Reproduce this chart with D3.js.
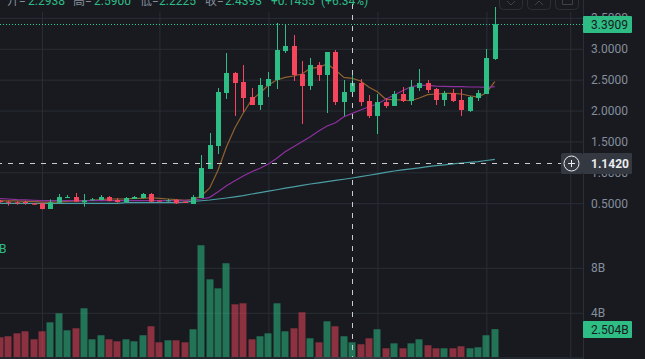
<!DOCTYPE html>
<html>
<head>
<meta charset="utf-8">
<script src="https://cdn.jsdelivr.net/npm/d3@7"></script>
<style>
    html, body { margin: 0; padding: 0; background: #181a20; overflow: hidden; }
    svg { display: block; }
    text { font-family: Roboto, "Noto Sans CJK SC", sans-serif; }
</style>
</head>
<body>
<div id="chart"></div>
<script>
// candles, oldest first
const opens = [.533,.517,.506,.511,.490,.490,.398,.500,.581,.592,.506,.538,.544,.592,.544,.511,.560,.576,.641,.533,.522,.544,.517,.479,
    .576,1.046,1.418,2.276,2.600,2.454,2.211,2.082,2.390,2.487,2.956,3.037,2.584,2.390,2.730,2.568,2.940,2.130,2.2938,2.438,2.147,1.904,
    2.130,2.066,2.260,2.147,2.357,2.438,2.341,2.163,2.276,2.163,1.985,2.195,2.260,2.827];
const closes = [.511,.500,.490,.495,.468,.398,.506,.592,.592,.517,.538,.554,.592,.528,.511,.576,.592,.641,.517,.522,.538,.490,.495,.592,
    1.062,1.434,2.292,2.600,2.438,2.195,2.082,2.406,2.503,2.972,3.037,2.568,2.390,2.730,2.568,2.940,2.130,2.292,2.4393,2.130,1.904,2.130,
    2.066,2.260,2.147,2.373,2.438,2.325,2.163,2.276,2.147,2.001,2.211,2.276,2.843,3.3909];
const highs = [.544,.533,.522,.533,.490,.490,.554,.641,.625,.657,.641,.576,.625,.608,.576,.592,.608,.657,.657,.533,.560,.560,.517,.625,
    1.272,1.629,2.357,2.924,2.616,2.730,2.357,2.519,2.616,3.410,3.377,3.215,2.794,2.843,2.778,2.940,2.972,2.487,2.5900,2.503,2.244,2.260,
    2.195,2.309,2.373,2.487,2.665,2.487,2.357,2.309,2.341,2.341,2.228,2.325,2.989,3.669];
const lows = [.500,.452,.468,.468,.468,.393,.398,.495,.576,.511,.436,.538,.538,.522,.500,.506,.560,.571,.511,.522,.517,.479,.495,.479,
    .576,1.046,1.289,2.179,1.904,1.969,2.082,2.001,2.211,2.341,2.924,2.471,1.774,2.325,2.471,1.952,2.082,1.904,2.2225,2.066,1.871,1.612,
    2.033,2.066,2.130,2.082,2.309,2.276,2.082,2.066,2.130,1.904,1.969,2.147,2.260,2.811];

// volume in billions
const volumes = [1.78,1.87,2.13,2.31,1.6,2.31,3.11,3.91,2.4,2.58,4.36,1.6,1.96,1.6,1.42,1.6,1.42,1.96,2.76,1.33,1.51,1.51,1.33,2.49,
    9.96,6.93,6.13,8.36,4.71,4.8,1.6,1.87,2.13,4.8,2.31,2.58,4.0,1.69,1.33,3.2,2.76,1.87,1.33,1.16,1.69,2.49,
    .8,1.24,.8,1.24,1.6,1.07,.8,.8,.8,.98,.8,.89,1.96,2.504];

// moving averages
const maShort = [.53,.53,.53,.52,.52,.51,.51,.51,.52,.53,.53,.54,.55,.56,.56,.56,.57,.57,.58,.57,.56,.55,.54,.55,
    .608,.738,1.029,1.407,1.709,1.952,2.163,2.276,2.406,2.487,2.530,2.551,2.584,2.676,2.692,2.746,2.649,2.530,2.514,2.470,2.368,2.297,
    2.174,2.168,2.163,2.151,2.195,2.249,2.260,2.271,2.271,2.260,2.232,2.211,2.281,2.459];
const maMid = [.565,.56,.55,.545,.54,.535,.535,.535,.535,.535,.535,.535,.535,.535,.535,.535,.535,.535,.535,.535,.535,.535,.54,.544,
    .560,.587,.678,.775,.856,.932,1.002,1.057,1.127,1.219,1.326,1.407,1.488,1.569,1.661,1.742,1.795,1.892,1.947,2.001,2.054,2.098,
    2.174,2.244,2.313,2.378,2.401,2.401,2.389,2.385,2.378,2.378,2.373,2.373,2.368,2.378];
const maLong = [.49,.49,.49,.49,.49,.49,.49,.49,.49,.49,.49,.49,.49,.49,.49,.50,.50,.50,.50,.50,.50,.50,.51,.523,
    .532,.544,.560,.576,.595,.616,.641,.662,.686,.710,.735,.757,.780,.803,.822,.842,.861,.880,.900,.922,.945,.968,
    .990,1.013,1.031,1.047,1.065,1.083,1.099,1.114,1.128,1.143,1.154,1.164,1.183,1.203];

const priceTicks = [0.5, 1, 1.5, 2, 2.5, 3, 3.5];
const volumeTicks = [4, 8];
const timeGridIndex = [5, 19, 32, 45, 58, 68];

const lastPrice = 3.3909;
const lastVolume = 2.504;
const crosshairPrice = 1.142;
const crosshairIndex = 42;

const titleParts = [
    { text: "开=", x: 7, grey: true }, { text: "2.2938", x: 28 },
    { text: "高=", x: 73, grey: true }, { text: "2.5900", x: 94 },
    { text: "低=", x: 140, grey: true }, { text: "2.2225", x: 159 },
    { text: "收=", x: 205, grey: true }, { text: "2.4393", x: 225 },
    { text: "+0.1455", x: 271 }, { text: "(+6.34%)", x: 321 }
];

const width = 645, height = 359;
const axisX = 583, labelWidth = 49;
const green = "#2ebd85", red = "#f6465d", gridColor = "#2a2e35", labelColor = "#848e9c";

const svg = d3.select("#chart").append("svg").attr("width", width).attr("height", height);
svg.append("rect").attr("width", width).attr("height", height).attr("fill", "#181a20");

const x = d3.scaleLinear().domain([0, 59]).range([0.1, 494.8]);
const y = d3.scaleLinear().domain([0.5, 3]).range([202.7, 48.3]);
const yVol = d3.scaleLinear().domain([0, 8]).range([357.3, 267.3]);
const snap = v => Math.round(v) + 0.5;

// Grid and axes
const styleAxis = g => {
    g.select(".domain").remove();
    g.selectAll("line").attr("stroke", gridColor);
    g.selectAll("text").attr("fill", labelColor).style("font-size", "12px");
};

svg.append("g")
    .attr("transform", "translate(0,357)")
    .call(d3.axisTop(x).tickValues(timeGridIndex).tickSize(345).tickFormat(""))
    .call(styleAxis);

svg.append("g")
    .attr("transform", `translate(${axisX},0.5)`)
    .call(d3.axisRight(y).tickValues(priceTicks).tickSizeInner(-axisX).tickSizeOuter(0).tickPadding(8).tickFormat(d3.format(".4f")))
    .call(styleAxis);

svg.append("g")
    .attr("transform", `translate(${axisX},0.5)`)
    .call(d3.axisRight(yVol).tickValues(volumeTicks).tickSizeInner(-axisX).tickSizeOuter(0).tickPadding(8).tickFormat(d => d + "B"))
    .call(styleAxis);

svg.append("line")
    .attr("x1", axisX + 0.5).attr("x2", axisX + 0.5)
    .attr("y1", 0).attr("y2", height)
    .attr("stroke", gridColor);

// Volume bars
svg.append("g").selectAll("rect")
    .data(volumes)
    .join("rect")
    .attr("x", (d, i) => Math.round(x(i)) - 3.5)
    .attr("width", 7)
    .attr("y", d => yVol(d))
    .attr("height", d => yVol(0) - yVol(d))
    .attr("fill", (d, i) => closes[i] >= opens[i] ? green : red)
    .attr("fill-opacity", (d, i) => closes[i] >= opens[i] ? 0.55 : 0.52);

// Moving averages
const maLine = d3.line().x((d, i) => x(i)).y(d => y(d));
[[maLong, "#4b9ea3"], [maShort, "#91622f"], [maMid, "#8f309f"]].forEach(([values, color]) => {
    svg.append("path")
        .attr("d", maLine(values))
        .attr("fill", "none")
        .attr("stroke", color)
        .attr("stroke-width", 1.2);
});

// Candles
const candles = svg.append("g").selectAll("g")
    .data(opens)
    .join("g")
    .attr("fill", (d, i) => closes[i] >= opens[i] ? green : red);

candles.append("rect")
    .attr("x", (d, i) => Math.round(x(i)))
    .attr("width", 1)
    .attr("y", (d, i) => y(highs[i]))
    .attr("height", (d, i) => y(lows[i]) - y(highs[i]));

candles.append("rect")
    .attr("x", (d, i) => Math.round(x(i)) - 2)
    .attr("width", 5)
    .attr("y", (d, i) => Math.min(y(opens[i]), y(closes[i])))
    .attr("height", (d, i) => Math.max(1, Math.abs(y(opens[i]) - y(closes[i]))));

// Last price line
svg.append("line")
    .attr("x1", 0).attr("x2", axisX)
    .attr("y1", snap(y(lastPrice))).attr("y2", snap(y(lastPrice)))
    .attr("stroke", "#1fcf9d")
    .attr("stroke-dasharray", "1 2");

// Crosshair
svg.append("line")
    .attr("x1", 0).attr("x2", axisX - 22)
    .attr("y1", snap(y(crosshairPrice))).attr("y2", snap(y(crosshairPrice)))
    .attr("stroke", "#c9cdd3")
    .attr("stroke-dasharray", "5 6")
    .attr("stroke-dashoffset", 3);

svg.append("line")
    .attr("x1", snap(x(crosshairIndex))).attr("x2", snap(x(crosshairIndex)))
    .attr("y1", 0).attr("y2", height)
    .attr("stroke", "#c9cdd3")
    .attr("stroke-dasharray", "5 6")
    .attr("stroke-dashoffset", 7);

// Price and volume tags on the axis
const axisTag = (value, yPos, h, fill, textFill, weight) => {
    svg.append("rect")
        .attr("x", axisX).attr("width", labelWidth)
        .attr("y", Math.round(yPos - h / 2)).attr("height", h)
        .attr("rx", 1)
        .attr("fill", fill);
    svg.append("text")
        .attr("x", axisX + 8).attr("y", yPos + 4.5)
        .attr("fill", textFill)
        .style("font-size", "12px")
        .style("font-weight", weight)
        .text(value);
};

axisTag(d3.format(".4f")(lastPrice), y(lastPrice), 17, green, "#181a20", 400);
axisTag(d3.format(".3f")(lastVolume) + "B", yVol(lastVolume), 17, green, "#181a20", 400);
axisTag(d3.format(".4f")(crosshairPrice), y(crosshairPrice), 21, "#343841", "#eaecef", 700);

// Plus button on the crosshair
const plus = svg.append("g").attr("transform", `translate(571.5,${snap(y(crosshairPrice))})`);
plus.append("rect").attr("x", -10.5).attr("y", -10.5).attr("width", 22).attr("height", 21).attr("rx", 2).attr("fill", "#343841");
plus.append("circle").attr("r", 7.5).attr("fill", "none").attr("stroke", "#eaecef").attr("stroke-width", 1);
plus.append("path").attr("d", "M-3.5,0H3.5M0,-3.5V3.5").attr("stroke", "#eaecef").attr("stroke-width", 1);

// Header values, clipped by the top edge
svg.append("g").selectAll("text")
    .data(titleParts)
    .join("text")
    .attr("x", d => d.x)
    .attr("y", 5)
    .attr("fill", d => d.grey ? labelColor : green)
    .style("font-size", "12px")
    .text(d => d.text);

svg.append("text").attr("x", -1).attr("y", 253).attr("fill", green).style("font-size", "12px").text("B");

// Toolbar buttons cut off at the top
const buttons = svg.append("g").attr("fill", "none").attr("stroke", "#2b2f36");
[499, 527, 555].forEach(bx => {
    buttons.append("rect").attr("x", bx + 0.5).attr("y", -10.5).attr("width", 23).attr("height", 20).attr("rx", 4);
});
buttons.append("path").attr("d", "M507,1L511,5L515,1").attr("stroke", "#3c414a");
buttons.append("path").attr("d", "M535,5L539,1L543,5").attr("stroke", "#3c414a");
buttons.append("path").attr("d", "M562.5,-2V4.5H572.5V-2").attr("stroke", "#3c414a");

// Scroll strip along the bottom
svg.append("rect").attr("x", 0).attr("y", 357).attr("width", axisX).attr("height", 2).attr("fill", "#23272e");
svg.append("rect").attr("x", 314).attr("y", 357).attr("width", 77).attr("height", 2).attr("fill", "#363b44");
</script>
</body>
</html>
